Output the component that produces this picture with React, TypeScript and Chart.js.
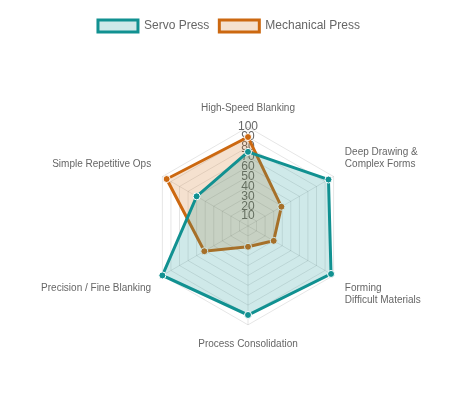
import React, { useEffect, useRef } from "react";
import Chart from "chart.js/auto";

const labels: (string | string[])[] = [
  "High-Speed Blanking",
  ["Deep Drawing &", "Complex Forms"],
  ["Forming", "Difficult Materials"],
  "Process Consolidation",
  "Precision / Fine Blanking",
  "Simple Repetitive Ops",
];

const servoPress = [75, 94, 97, 90, 100, 60];
const mechanicalPress = [90, 39, 30, 21, 51, 95];

const RadarChart: React.FC = () => {
  const chartRef = useRef<HTMLCanvasElement | null>(null);
  const chartInstance = useRef<Chart | null>(null);

  useEffect(() => {
    if (!chartRef.current) return;
    if (chartInstance.current) {
      chartInstance.current.destroy();
    }
    const ctx = chartRef.current.getContext("2d");
    if (!ctx) return;

    chartInstance.current = new Chart(ctx, {
      type: "radar",
      data: {
        labels: labels,
        datasets: [
          {
            label: "Servo Press",
            data: servoPress,
            backgroundColor: "rgba(17, 145, 145, 0.2)",
            borderColor: "rgb(17, 145, 145)",
            borderWidth: 3,
            pointBackgroundColor: "rgb(17, 145, 145)",
            pointBorderColor: "#fff",
            pointBorderWidth: 1,
            pointRadius: 3.5,
          },
          {
            label: "Mechanical Press",
            data: mechanicalPress,
            backgroundColor: "rgba(204, 104, 16, 0.2)",
            borderColor: "rgb(204, 104, 16)",
            borderWidth: 3,
            pointBackgroundColor: "rgb(204, 104, 16)",
            pointBorderColor: "#fff",
            pointBorderWidth: 1,
            pointRadius: 3.5,
          },
        ],
      },
      options: {
        animation: false,
        maintainAspectRatio: false,
        layout: { padding: { top: 2 } },
        plugins: {
          legend: { position: "top" },
        },
        scales: {
          r: {
            min: 0,
            max: 100,
            ticks: {
              stepSize: 10,
              showLabelBackdrop: false,
            },
            pointLabels: {
              font: { size: 10 },
            },
          },
        },
      },
    });

    return () => {
      if (chartInstance.current) {
        chartInstance.current.destroy();
        chartInstance.current = null;
      }
    };
  }, []);

  return <canvas ref={chartRef} />;
};

export default function App() {
  return (
    <div style={{ width: 416, height: 402, margin: "0 auto" }}>
      <RadarChart />
    </div>
  );
}
